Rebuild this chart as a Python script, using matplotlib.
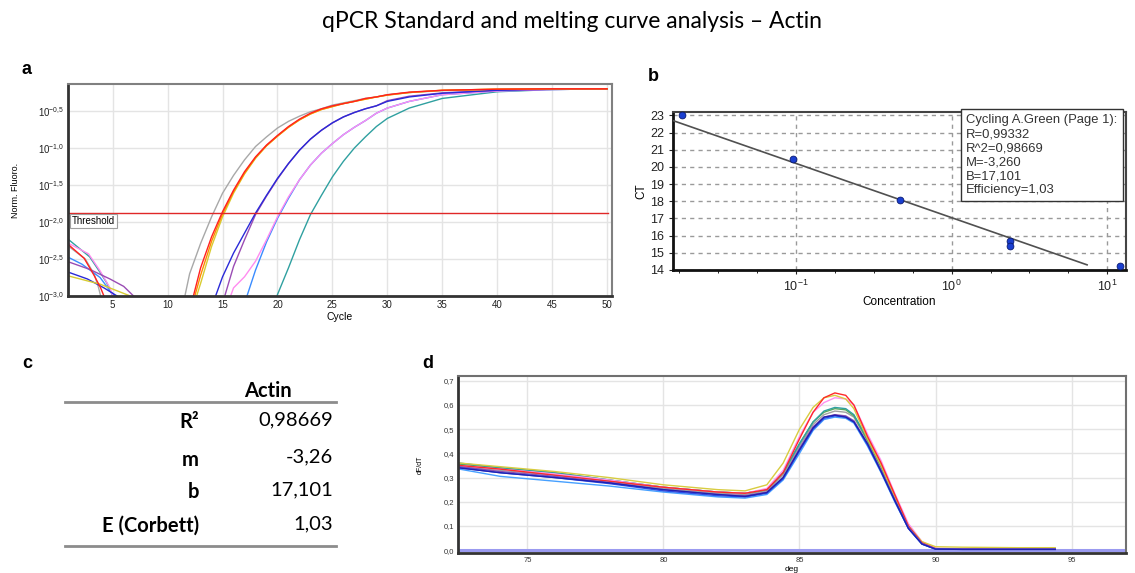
import numpy as np
import matplotlib
matplotlib.use('Agg')
import matplotlib.pyplot as plt
from matplotlib.lines import Line2D
from matplotlib.ticker import FixedLocator, MultipleLocator

plt.rcParams['font.family'] = ['Liberation Sans', 'DejaVu Sans']
plt.rcParams['mathtext.fontset'] = 'custom'
plt.rcParams['mathtext.rm'] = 'Liberation Sans'
plt.rcParams['mathtext.it'] = 'Liberation Sans:italic'
plt.rcParams['mathtext.bf'] = 'Liberation Sans:bold'

nan = np.nan

# ---------------- a: amplification curves (log10 of norm. fluorescence)
rise_cycles = [11, 12, 13, 14, 15, 16, 17, 18, 19, 20, 21, 22, 23, 24, 25,
               26, 27, 28, 29, 30, 32, 35, 40, 45, 50]
gray_rise = [-3.4, -2.70, -2.29, -1.93, -1.61, -1.37, -1.16, -0.98, -0.85, -0.73, -0.64, -0.57, -0.51,
             -0.47, -0.42, -0.39, -0.36, -0.33, -0.31, -0.28, -0.25, -0.225, -0.21, -0.2, -0.2]
red_rise = [nan, -3.2, -2.62, -2.20, -1.86, -1.57, -1.32, -1.12, -0.96, -0.83, -0.71, -0.61, -0.53,
            -0.47, -0.43, -0.40, -0.37, -0.33, -0.31, -0.28, -0.245, -0.22, -0.205, -0.2, -0.2]
yellow_rise = [nan, -3.3, -2.83, -2.33, -1.93, -1.61, -1.35, -1.14, -0.97, -0.84, -0.72, -0.62, -0.54,
               -0.48, -0.44, -0.40, -0.37, -0.34, -0.31, -0.285, -0.25, -0.22, -0.205, -0.2, -0.2]
orange_rise = [nan, -3.25, -2.72, -2.26, -1.89, -1.59, -1.34, -1.13, -0.97, -0.84, -0.72, -0.62, -0.54,
               -0.48, -0.44, -0.40, -0.37, -0.34, -0.31, -0.285, -0.25, -0.22, -0.205, -0.2, -0.2]
indigo_rise = [nan, nan, nan, -3.15, -2.74, -2.42, -2.15, -1.88, -1.64, -1.41, -1.21, -1.03, -0.88,
               -0.76, -0.66, -0.58, -0.52, -0.47, -0.43, -0.37, -0.31, -0.26, -0.22, -0.205, -0.2]
purple_rise = [nan, nan, nan, nan, -3.1, -2.60, -2.24, -1.90, -1.65, -1.42, -1.21, -1.03, -0.88,
               -0.76, -0.66, -0.58, -0.52, -0.47, -0.43, -0.36, -0.30, -0.255, -0.22, -0.205, -0.2]
pink_rise = [nan, nan, nan, nan, -3.3, -2.89, -2.74, -2.53, -2.24, -1.93, -1.66, -1.43, -1.23,
             -1.07, -0.94, -0.82, -0.72, -0.63, -0.53, -0.46, -0.37, -0.28, -0.23, -0.21, -0.2]
lightblue_rise = [nan, nan, nan, nan, nan, nan, -3.1, -2.65, -2.27, -1.95, -1.68, -1.43, -1.23,
                  -1.07, -0.94, -0.82, -0.72, -0.63, -0.53, -0.46, -0.37, -0.28, -0.23, -0.21, -0.2]
teal_rise = [nan, nan, nan, nan, nan, nan, nan, nan, -3.6, -2.98, -2.62, -2.24, -1.90,
             -1.64, -1.39, -1.18, -1.00, -0.85, -0.71, -0.60, -0.46, -0.33, -0.24, -0.21, -0.2]

# first cycles (baseline noise)
teal_early = ([1, 2.9, 3.85, 4.45, 5.0], [-2.24, -2.47, -2.68, -2.82, -3.0])
pink_early = ([1, 2.8, 3.85, 4.75, 5.0], [-2.29, -2.43, -2.66, -2.89, -3.0])
red_early = ([1, 2.4, 3.3, 3.9, 4.2], [-2.31, -2.49, -2.72, -2.89, -3.0])
gray_early = ([1, 2.5, 3.3, 3.7, 3.9], [-2.33, -2.5, -2.7, -2.88, -3.0])
lightblue_early = ([1, 2.2, 3.85, 4.75, 5.2], [-2.48, -2.57, -2.75, -2.93, -3.0])
purple_early = ([1, 2.9, 4.75, 6.0, 6.9], [-2.54, -2.64, -2.77, -2.87, -3.0])
indigo_early = ([1, 2.7, 4.2, 5.4], [-2.68, -2.77, -2.89, -3.0])
yellow_early = ([1, 3.85, 5.4, 6.6], [-2.73, -2.84, -2.93, -3.0])

threshold = -1.88

# ---------------- b: standard curve
conc_log = [-1.73, -1.02, -0.33, 0.374, 0.374, 1.08]
ct_values = [23.0, 20.45, 18.05, 15.69, 15.41, 14.25]
fit_x = [-1.79, 0.87]
fit_ct = [22.7, 14.3]
fit_text = ['Cycling A.Green (Page 1):', 'R=0,99332', 'R^2=0,98669',
            'M=-3,260', 'B=17,101', 'Efficiency=1,03']

# ---------------- c: table
table_header = 'Actin'
table_labels = ['R²', 'm', 'b', 'E (Corbett)']
table_values = ['0,98669', '-3,26', '17,101', '1,03']

# ---------------- d: melting curves
temps = [72.5, 74, 76, 78, 80, 82, 83, 83.8, 84.4, 85, 85.5, 85.9, 86.3, 86.7, 87.0,
         87.5, 88.0, 88.5, 89.0, 89.5, 90.0, 91, 92, 93, 94.4]
melt_red = [0.35, 0.335, 0.31, 0.285, 0.26, 0.24, 0.235, 0.25, 0.32, 0.46, 0.57, 0.63, 0.65, 0.64, 0.60,
            0.47, 0.36, 0.23, 0.10, 0.03, 0.006, 0.004, 0.004, 0.004, 0.004]
melt_yellow = [0.36, 0.345, 0.325, 0.30, 0.27, 0.25, 0.245, 0.27, 0.36, 0.50, 0.59, 0.63, 0.64, 0.625, 0.585,
               0.46, 0.35, 0.22, 0.10, 0.035, 0.014, 0.012, 0.011, 0.01, 0.01]
melt_pink = [0.35, 0.335, 0.315, 0.29, 0.26, 0.24, 0.235, 0.255, 0.33, 0.47, 0.57, 0.61, 0.63, 0.625, 0.60,
             0.48, 0.37, 0.235, 0.11, 0.035, 0.008, 0.005, 0.005, 0.005, 0.005]
melt_teal = [0.36, 0.34, 0.32, 0.29, 0.26, 0.24, 0.235, 0.25, 0.32, 0.44, 0.53, 0.575, 0.59, 0.585, 0.56,
             0.46, 0.35, 0.22, 0.10, 0.03, 0.006, 0.004, 0.004, 0.004, 0.004]
melt_gray = [0.345, 0.33, 0.31, 0.285, 0.255, 0.235, 0.23, 0.245, 0.31, 0.43, 0.52, 0.56, 0.575, 0.57, 0.55,
             0.45, 0.34, 0.215, 0.10, 0.03, 0.006, 0.004, 0.004, 0.004, 0.004]
melt_green = [0.355, 0.34, 0.32, 0.29, 0.26, 0.24, 0.235, 0.25, 0.32, 0.44, 0.53, 0.57, 0.585, 0.58, 0.555,
              0.455, 0.345, 0.22, 0.10, 0.03, 0.006, 0.004, 0.004, 0.004, 0.004]
melt_purple = [0.345, 0.325, 0.305, 0.28, 0.25, 0.23, 0.225, 0.24, 0.30, 0.42, 0.51, 0.55, 0.56, 0.555, 0.535,
               0.44, 0.33, 0.21, 0.095, 0.028, 0.005, 0.003, 0.003, 0.003, 0.003]
melt_blue = [0.34, 0.32, 0.30, 0.275, 0.245, 0.225, 0.22, 0.235, 0.295, 0.41, 0.50, 0.545, 0.555, 0.55, 0.53,
             0.435, 0.325, 0.205, 0.09, 0.025, 0.004, 0.003, 0.003, 0.003, 0.003]
melt_lightblue = [0.335, 0.305, 0.285, 0.265, 0.24, 0.22, 0.215, 0.23, 0.29, 0.40, 0.495, 0.54, 0.55, 0.545, 0.525,
                  0.43, 0.32, 0.20, 0.09, 0.025, 0.004, 0.003, 0.003, 0.003, 0.003]
melt_darkblue = [0.34, 0.32, 0.30, 0.278, 0.25, 0.23, 0.222, 0.238, 0.30, 0.415, 0.505, 0.55, 0.558, 0.55, 0.53,
                 0.44, 0.325, 0.205, 0.09, 0.025, 0.004, 0.003, 0.003, 0.003, 0.003]
ntc_temps = [72.45, 97]
ntc_melt = [0.0, 0.0]

W, H = 1135, 573
fig = plt.figure(figsize=(W / 100, H / 100), dpi=100)


def px(x, y):
    return x / W, 1 - y / H


def frame(ax, dark='#333333', light='#808080'):
    for s in ['left', 'bottom']:
        ax.spines[s].set_color(dark)
        ax.spines[s].set_linewidth(2)
    for s in ['top', 'right']:
        ax.spines[s].set_color(light)
        ax.spines[s].set_linewidth(1.5)


fig.text(*px(572, 22), 'qPCR Standard and melting curve analysis – Actin', ha='center', va='center',
         fontsize=16.5, family='Lato')
for lab, (x, y) in zip('abcd', [(22, 70), (648, 76), (22, 364), (422, 364)]):
    fig.text(*px(x, y), lab, fontsize=13, fontweight='bold', ha='left', va='center')

# ---- panel a
ax = fig.add_axes([68 / W, 1 - 296 / H, 544 / W, 212 / H])
frame(ax)
a_curves = [(gray_rise, gray_early, '#a8a8a8'), (teal_rise, teal_early, '#2fa0a0'),
            (lightblue_rise, lightblue_early, '#3a8cff'), (pink_rise, pink_early, '#ff8cf0'),
            (purple_rise, purple_early, '#9a4cb4'), (indigo_rise, indigo_early, '#2a2ad8'),
            (yellow_rise, yellow_early, '#d8cc30'), (orange_rise, None, '#ff8a00'),
            (red_rise, red_early, '#ff2020')]
for rise, early, col in a_curves:
    ax.plot(rise_cycles, rise, color=col, lw=1)
    if early is not None:
        ax.plot(early[0], early[1], color=col, lw=1)
ax.axhline(threshold, xmin=0.001, xmax=0.992, color='#e02828', lw=1)
ax.text(1.3, -1.99, 'Threshold', fontsize=7, va='center', ha='left',
        bbox=dict(boxstyle='square,pad=0.2', fc='white', ec='#a0a0a0', lw=0.8))
ax.set_xlim(0.93, 50.45)
ax.set_ylim(-3.0, -0.135)
ax.set_xticks(range(5, 51, 5))
yt = [-3.0, -2.5, -2.0, -1.5, -1.0, -0.5]
ax.set_yticks(yt)
ax.set_yticklabels([r'$10^{%s}$' % ('%.1f' % v).replace('.', '{,}') for v in yt])
ax.tick_params(axis='both', labelsize=7, length=0, pad=3, colors='#222222')
ax.grid(True, color='#e4e4e4', lw=1)
ax.set_axisbelow(True)
ax.set_xlabel('Cycle', fontsize=7.5, labelpad=1)
ax.set_ylabel('Norm. Fluoro.', fontsize=6.5)
ax.yaxis.set_label_coords(-0.088, 0.5)

# ---- panel b
bx = fig.add_axes([673 / W, 1 - 270 / H, 453 / W, 158 / H])
frame(bx, dark='#111111', light='#444444')
bx.plot(fit_x, fit_ct, color='#505050', lw=1.2, zorder=3)
bx.scatter(conc_log, ct_values, s=24, color='#1a3fd0', edgecolor='#0a1a70', lw=0.6, zorder=4, clip_on=False)
bx.set_xlim(-1.79, 1.12)
bx.set_ylim(14, 23.2)
bx.set_yticks(range(14, 24))
bx.xaxis.set_major_locator(FixedLocator([-1, 0, 1]))
bx.xaxis.set_minor_locator(MultipleLocator(0.25))
bx.set_xticklabels([r'$10^{-1}$', r'$10^{0}$', r'$10^{1}$'])
bx.tick_params(axis='both', which='major', labelsize=9, length=3, colors='#222222')
bx.tick_params(axis='x', which='minor', length=2.5)
bx.grid(True, axis='y', color='#9a9a9a', lw=1, ls=(0, (3, 3)))
bx.grid(True, axis='x', which='major', color='#9a9a9a', lw=1, ls=(0, (3, 3)))
bx.set_xlabel('Concentration', fontsize=8.5, labelpad=1)
bx.set_ylabel('CT', fontsize=8.5, labelpad=2)
bx.text(0.647, 0.985, '\n'.join(fit_text), transform=bx.transAxes, ha='left', va='top',
        fontsize=9.4, color='#333333', linespacing=1.22, zorder=6,
        bbox=dict(boxstyle='square,pad=0.4', fc='white', ec='#333333', lw=1))

# ---- panel c
fig.text(*px(268, 391), table_header, fontsize=14.5, fontweight='bold', family='Lato', ha='center', va='center')
fig.add_artist(Line2D([65 / W, 336 / W], [1 - 402 / H] * 2, color='#8c8c8c', lw=2))
fig.add_artist(Line2D([65 / W, 336 / W], [1 - 546 / H] * 2, color='#8c8c8c', lw=2))
label_y = [422, 460, 492, 526]
value_y = [420, 457, 490, 524]
for lab, val, ly, vy in zip(table_labels, table_values, label_y, value_y):
    fig.text(*px(199, ly), lab, fontsize=14.5, fontweight='bold', family='Lato', ha='right', va='center')
    fig.text(*px(333, vy), val, fontsize=14.5, family='Lato', ha='right', va='center')

# ---- panel d
dx = fig.add_axes([458 / W, 1 - 553 / H, 668 / W, 177 / H])
frame(dx, dark='#333333', light='#707070')
dx.plot(ntc_temps, ntc_melt, color='#9a9af0', lw=2.2)
melt = [(melt_gray, '#a0a0a0'), (melt_green, '#58a858'), (melt_teal, '#2fa0a0'), (melt_pink, '#ff90f0'),
        (melt_yellow, '#d8cc40'), (melt_red, '#ff2a2a'), (melt_lightblue, '#46a0ff'),
        (melt_purple, '#8a4cb0'), (melt_blue, '#2a50e8'), (melt_darkblue, '#2020b0')]
for vals, col in melt:
    dx.plot(temps, vals, color=col, lw=1)
dx.set_xlim(72.45, 97)
dx.set_ylim(-0.012, 0.72)
dx.set_xticks([75, 80, 85, 90, 95])
dt = [0.0, 0.1, 0.2, 0.3, 0.4, 0.5, 0.6, 0.7]
dx.set_yticks(dt)
dx.set_yticklabels([('%.1f' % v).replace('.', ',') for v in dt])
dx.tick_params(axis='both', labelsize=5.5, length=0, pad=3, colors='#333333')
dx.grid(True, color='#e4e4e4', lw=1)
dx.set_axisbelow(True)
dx.set_ylabel('dF/dT', fontsize=5)
dx.yaxis.set_label_coords(-0.052, 0.5)
dx.set_xlabel('deg', fontsize=6, labelpad=1)

fig.savefig('out.png', dpi=100)
